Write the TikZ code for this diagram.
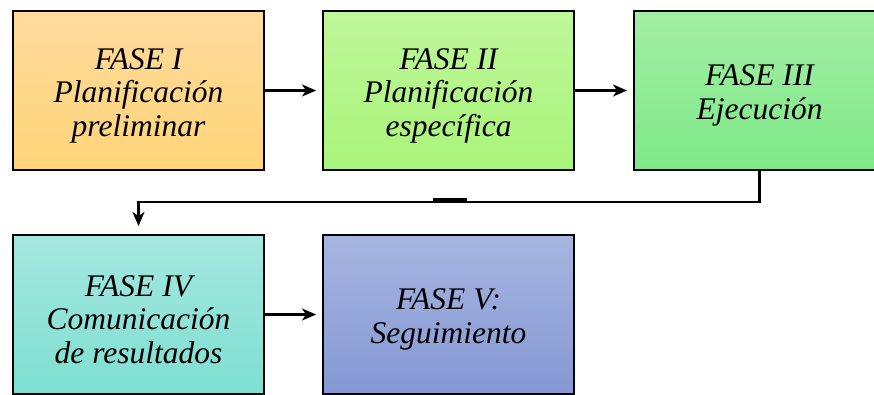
\documentclass[tikz,border=0pt]{standalone}
\usepackage{fontspec}
\setmainfont{Liberation Serif}[ItalicFont={Liberation Serif Italic}]
\usetikzlibrary{arrows.meta,calc}

\definecolor{faseItop}{HTML}{FFDA9C}
\definecolor{faseIbot}{HTML}{FFD479}
\definecolor{faseIItop}{HTML}{BFF69A}
\definecolor{faseIIbot}{HTML}{A9F57A}
\definecolor{faseIIItop}{HTML}{A3EEA5}
\definecolor{faseIIIbot}{HTML}{7EE987}
\definecolor{faseIVtop}{HTML}{A5E7DF}
\definecolor{faseIVbot}{HTML}{7EDFD1}
\definecolor{faseVtop}{HTML}{A7B5E0}
\definecolor{faseVbot}{HTML}{8598D4}

\tikzset{
  fasebox/.style={draw=black, line width=2pt, rectangle,
    minimum width=251pt, minimum height=159pt,
    top color=#1top, bottom color=#1bot},
  fasetexto/.style={align=center, inner sep=0pt,
    font=\fontsize{31.5}{33.5}\selectfont\itshape},
  flecha/.style={line width=2.2pt, -{Stealth[length=14pt,width=12pt,inset=4pt]}}
}

\begin{document}
\begin{tikzpicture}[x=1pt,y=-1pt]
  \useasboundingbox (0,0) rectangle (874,394);
  \clip (0,0) rectangle (874,394);
  \pgfmathsetmacro{\xa}{138.5}
  \pgfmathsetmacro{\xb}{448.5}
  \pgfmathsetmacro{\xc}{759.5}
  \pgfmathsetmacro{\ya}{90.5}
  \pgfmathsetmacro{\yb}{314.5}

  % fila de arriba
  \node[fasebox=faseI] (f1) at (\xa,\ya) {};
  \node[fasebox=faseII] (f2) at (\xb,\ya) {};
  \node[fasebox=faseIII] (f3) at (\xc,\ya) {};
  % fila de abajo
  \node[fasebox=faseIV] (f4) at (\xa,\yb) {};
  \node[fasebox=faseV] (f5) at (\xb,\yb) {};

  \node[fasetexto] (t1) at ([yshift=-5pt]f1) {FASE I\\Planificación\\preliminar};
  \node[fasetexto] (t2) at ([yshift=-5pt]f2) {FASE II\\Planificación\\específica};
  \node[fasetexto] (t3) at ([yshift=-5pt]f3) {FASE III\\Ejecución};
  \node[fasetexto] (t4) at ([yshift=-5pt]f4) {FASE IV\\Comunicación\\de resultados};
  \node[fasetexto] (t5) at ([yshift=-5pt]f5) {FASE V:\\Seguimiento};

  \draw[flecha, shorten >=6pt] (f1) -- (f2);
  \draw[flecha, shorten >=6pt] (f2) -- (f3);
  \draw[flecha, shorten >=6pt] (f4) -- (f5);
  \coordinate (codo) at ($(f3.south)+(0,31)$);
  \draw[flecha, shorten >=8pt] (f3.south) -- (codo) -| (f4.north);
  \draw[line width=3pt] ($(codo)+(-327,-3)$) -- ++(34,0);
\end{tikzpicture}
\end{document}
